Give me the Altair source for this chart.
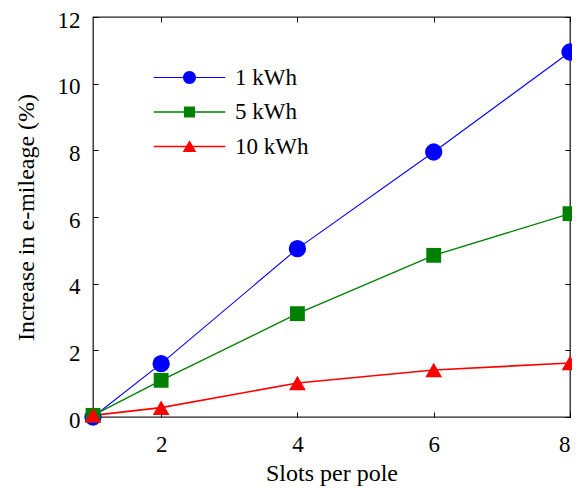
import altair as alt
import pandas as pd

# ---- data ----
slots = [1, 2, 4, 6, 8]
series_names = ["1 kWh", "5 kWh", "10 kWh"]
inc_1kwh = [0.0, 1.6, 5.05, 7.95, 10.95]
inc_5kwh = [0.05, 1.1, 3.1, 4.85, 6.1]
inc_10kwh = [0.05, 0.28, 1.02, 1.41, 1.62]
x_ticks = [2, 4, 6, 8]
y_ticks = [0, 2, 4, 6, 8, 10, 12]

# ---- styling ----
colors = ["#0000ff", "#008000", "#ff0000"]
line_widths = [1.1, 1.4, 1.7]
marker_shapes = ["circle", "square", "triangle-up"]
marker_sizes = [300, 220, 280]
# legend symbols: a thin bar (the line) + marker, in unit coordinates
legend_paths = [
    "M-5.5,-0.08H5.5V0.08H-5.5Z M1,0A1,1,0,1,1,-1,0A1,1,0,1,1,1,0Z",
    "M-5.5,-0.1H5.5V0.1H-5.5Z M-0.85,-0.85H0.85V0.85H-0.85Z",
    "M-5.5,-0.12H5.5V0.12H-5.5Z M0,-0.95L1.05,0.85L-1.05,0.85Z",
]

rows = []
for name, vals in zip(series_names, [inc_1kwh, inc_5kwh, inc_10kwh]):
    for s, v in zip(slots, vals):
        rows.append({"slots": s, "inc": v, "series": name})
df = pd.DataFrame(rows)

FONT = "Liberation Serif"
W, H = 477, 400
TICK = 5

xs = alt.Scale(domain=[1, 8], nice=False, zero=False)
ys = alt.Scale(domain=[0, 12], nice=False)


def xaxis(orient, labels):
    kw = dict(orient=orient, values=x_ticks, labels=labels, domain=False, grid=False,
              ticks=True, tickSize=TICK, offset=-TICK, tickColor="black", tickWidth=1,
              labelFont=FONT, labelFontSize=23, labelColor="black", labelPadding=16,
              titleFont=FONT, titleFontSize=24, titleFontWeight="normal",
              titleColor="black", titlePadding=5)
    kw["title"] = "Slots per pole" if labels else ""
    return alt.Axis(**kw)


def yaxis(orient, labels):
    kw = dict(orient=orient, values=y_ticks, labels=labels, domain=False, grid=False,
              ticks=True, tickSize=TICK, offset=-TICK, tickColor="black", tickWidth=1,
              labelFont=FONT, labelFontSize=23, labelColor="black", labelPadding=13,
              labelOffset=3,
              titleFont=FONT, titleFontSize=24, titleFontWeight="normal",
              titleColor="black", titlePadding=19)
    kw["title"] = "Increase in e-mileage (%)" if labels else ""
    return alt.Axis(**kw)


base = alt.Chart(df)
layers = []

for i, (name, c, lw) in enumerate(zip(series_names, colors, line_widths)):
    ax_x = xaxis("bottom", True) if i == 0 else None
    ax_y = yaxis("left", True) if i == 0 else None
    layers.append(
        base.transform_filter(alt.datum.series == name)
        .mark_line(color=c, strokeWidth=lw)
        .encode(
            x=alt.X("slots:Q", scale=xs, axis=ax_x),
            y=alt.Y("inc:Q", scale=ys, axis=ax_y),
        )
    )

for name, c, shp, sz in zip(series_names, colors, marker_shapes, marker_sizes):
    layers.append(
        base.transform_filter(alt.datum.series == name)
        .mark_point(color=c, shape=shp, size=sz, filled=True, opacity=1)
        .encode(
            x=alt.X("slots:Q", scale=xs, axis=None),
            y=alt.Y("inc:Q", scale=ys, axis=None),
        )
    )

leg = alt.Legend(
    orient="none", legendX=85, legendY=49, title=None,
    labelFont=FONT, labelFontSize=23, labelColor="black",
    symbolSize=169, symbolStrokeWidth=0, symbolOpacity=1,
    labelOffset=34, rowPadding=10.5, padding=0, labelLimit=300,
)

legend_layer = (
    base.transform_filter("false")
    .mark_point(filled=True, size=169, opacity=1)
    .encode(
        x=alt.X("slots:Q", scale=xs, axis=xaxis("top", False)),
        y=alt.Y("inc:Q", scale=ys, axis=yaxis("right", False)),
        color=alt.Color("series:N", scale=alt.Scale(domain=series_names, range=colors), legend=leg),
        shape=alt.Shape("series:N", scale=alt.Scale(domain=series_names, range=legend_paths), legend=leg),
    )
)
layers.append(legend_layer)

chart = (
    alt.layer(*layers)
    .resolve_axis(x="independent", y="independent")
    .properties(
        width=W, height=H,
        autosize=alt.AutoSizeParams(type="none"),
        padding={"left": 85, "top": 9, "right": 2, "bottom": 71},
    )
    .configure_view(stroke="#222222", strokeWidth=1.3)
)

chart.save("out.html", embed_options={"renderer": "svg", "actions": False})
